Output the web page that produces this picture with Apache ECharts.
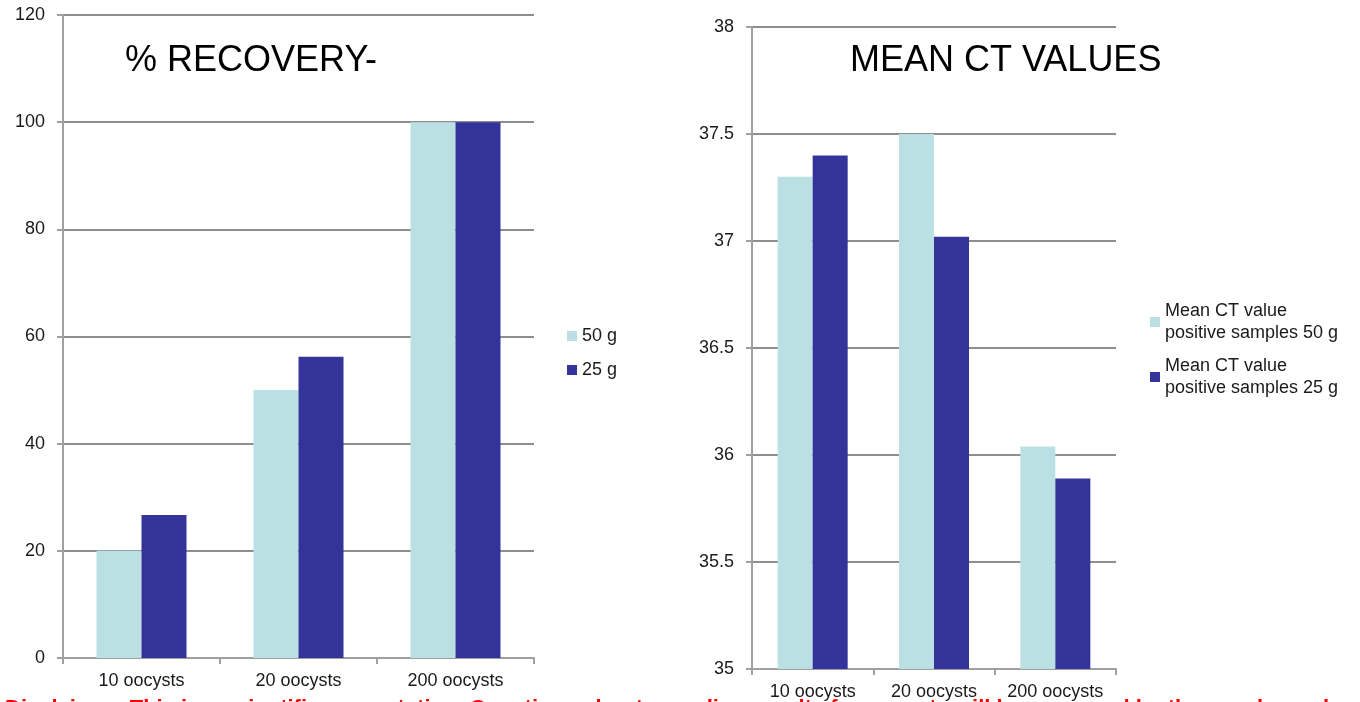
<!DOCTYPE html>
<html>
<head>
<meta charset="utf-8">
<style>
  html, body { margin: 0; padding: 0; background: #ffffff; }
  #chart { width: 1360px; height: 702px; }
</style>
<script src="https://cdn.jsdelivr.net/npm/echarts@6/dist/echarts.min.js"></script>
</head>
<body>
<div id="chart"></div>
<script>
// Categories shared by both panels
const categories = ['10 oocysts', '20 oocysts', '200 oocysts'];

// Left panel: % recovery
const recovery50 = [20, 50, 100];
const recovery25 = [26.7, 56.2, 100];

// Right panel: mean CT values of positive samples
const ct50 = [37.3, 37.5, 36.04];
const ct25 = [37.4, 37.02, 35.89];

const recoveryNames = ['50 g', '25 g'];
const ctNames = ['Mean CT value\npositive samples 50 g', 'Mean CT value\npositive samples 25 g'];

const LIGHT = '#bbe0e3';
const DARK = '#333399';
const FONT = '"Liberation Sans", Arial, sans-serif';
const GRID_COLOR = '#8e8e8e';
const AXIS_COLOR = '#a0a0a0';
const TEXT_COLOR = '#1a1a1a';

function valueAxis(gridIndex, min, max, interval) {
  return {
    type: 'value', gridIndex, min, max, interval,
    axisLine: { show: true, lineStyle: { color: AXIS_COLOR, width: 2 } },
    axisTick: { show: true, length: 6, lineStyle: { color: AXIS_COLOR, width: 2 } },
    axisLabel: { color: TEXT_COLOR, fontSize: 18, fontFamily: FONT, margin: 18 },
    splitLine: { show: true, lineStyle: { color: GRID_COLOR, width: 2 } }
  };
}

function categoryAxis(gridIndex) {
  return {
    type: 'category', gridIndex, data: categories,
    axisLine: { show: true, lineStyle: { color: AXIS_COLOR, width: 2 } },
    axisTick: { show: true, length: 6, alignWithLabel: false, lineStyle: { color: AXIS_COLOR, width: 2 } },
    axisLabel: { color: TEXT_COLOR, fontSize: 18, fontFamily: FONT, margin: 14, interval: 0, hideOverlap: false }
  };
}

function barSeries(name, data, axisIndex, color, width) {
  return {
    type: 'bar', name, data,
    xAxisIndex: axisIndex, yAxisIndex: axisIndex,
    barWidth: width, barGap: '0%',
    itemStyle: { color },
    emphasis: { disabled: true },
    animation: false
  };
}

const chart = echarts.init(document.getElementById('chart'), null, { renderer: 'canvas' });

chart.setOption({
  backgroundColor: '#ffffff',
  animation: false,
  grid: [
    { left: 63, top: 15, width: 471, height: 643 },
    { left: 752, top: 27, width: 364, height: 642 }
  ],
  xAxis: [categoryAxis(0), categoryAxis(1)],
  yAxis: [valueAxis(0, 0, 120, 20), valueAxis(1, 35, 38, 0.5)],
  legend: [
    {
      data: recoveryNames, orient: 'vertical', left: 567, top: 326, padding: 0,
      icon: 'rect', itemWidth: 10, itemHeight: 10, itemGap: 14, selectedMode: false,
      textStyle: { color: TEXT_COLOR, fontSize: 18, fontFamily: FONT, lineHeight: 20 }
    },
    {
      data: [ctNames[0]], orient: 'vertical', left: 1150, top: 289, padding: 0,
      icon: 'rect', itemWidth: 10, itemHeight: 10, selectedMode: false,
      textStyle: { color: TEXT_COLOR, fontSize: 18, fontFamily: FONT, lineHeight: 22, padding: [22, 0, 0, 0] }
    },
    {
      data: [ctNames[1]], orient: 'vertical', left: 1150, top: 344, padding: 0,
      icon: 'rect', itemWidth: 10, itemHeight: 10, selectedMode: false,
      textStyle: { color: TEXT_COLOR, fontSize: 18, fontFamily: FONT, lineHeight: 22, padding: [22, 0, 0, 0] }
    }
  ],
  graphic: [
    {
      type: 'text', left: 125, top: 43,
      style: { text: '% RECOVERY-', fill: '#000', font: '36px ' + FONT }
    },
    {
      type: 'text', left: 850, top: 43,
      style: { text: 'MEAN CT VALUES', fill: '#000', font: '36px ' + FONT }
    },
    {
      type: 'text', left: 5, top: 698,
      style: {
        text: 'Disclaimer: This is a scientific presentation. Questions about sampling results for oocysts will be answered by the speaker only',
        fill: '#ff0000', font: 'bold 22px ' + FONT
      }
    }
  ],
  series: [
    barSeries(recoveryNames[0], recovery50, 0, LIGHT, 45),
    barSeries(recoveryNames[1], recovery25, 0, DARK, 45),
    barSeries(ctNames[0], ct50, 1, LIGHT, 35),
    barSeries(ctNames[1], ct25, 1, DARK, 35)
  ]
});
</script>
</body>
</html>
